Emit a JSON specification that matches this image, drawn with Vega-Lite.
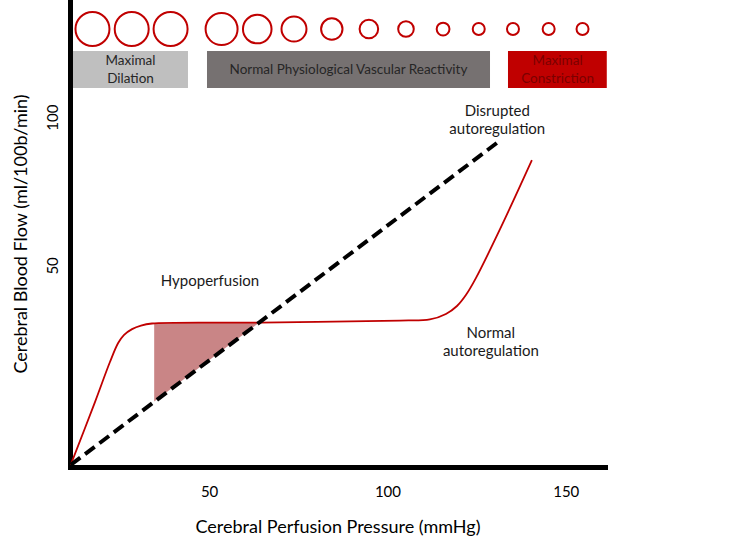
{
  "$schema": "https://vega.github.io/schema/vega-lite/v6.json",
  "width": 535,
  "height": 467,
  "autosize": {"type": "none"},
  "padding": {"left": 70, "top": 0, "right": 145, "bottom": 89},
  "background": "white",
  "config": {
    "view": {"stroke": null},
    "font": "Lato",
    "axis": {"grid": false, "ticks": false, "domainColor": "black", "domainWidth": 5, "domainCap": "square", "labelFont": "Lato", "labelFontSize": 15, "labelColor": "#000", "titleFont": "Lato", "titleFontSize": 18, "titleFontWeight": "normal", "titleColor": "#000"}
  },
  "datasets": {
    "normal": [
      {"cpp": 11.2, "cbf": -17.3},
      {"cpp": 18.0, "cbf": 3.9},
      {"cpp": 22.2, "cbf": 17.4},
      {"cpp": 24.5, "cbf": 23.8},
      {"cpp": 26.1, "cbf": 26.5},
      {"cpp": 28.4, "cbf": 28.5},
      {"cpp": 30.9, "cbf": 29.7},
      {"cpp": 34.0, "cbf": 30.4},
      {"cpp": 64.3, "cbf": 30.7},
      {"cpp": 103.5, "cbf": 31.4},
      {"cpp": 111.9, "cbf": 31.75},
      {"cpp": 116.4, "cbf": 33.6},
      {"cpp": 119.5, "cbf": 36.3},
      {"cpp": 122.0, "cbf": 40.0},
      {"cpp": 124.8, "cbf": 45.7},
      {"cpp": 131.6, "cbf": 62.3},
      {"cpp": 140.5, "cbf": 85.5}
    ],
    "disrupted": [
      {"cpp": 11.2, "cbf": -17.3},
      {"cpp": 130.7, "cbf": 91.3}
    ],
    "hypo": [
      {"cpp": 34.6, "cbf": 30.45, "lo": 4.1},
      {"cpp": 64.1, "cbf": 30.75, "lo": 30.75}
    ],
    "vessels": [
      {"cpp": 17.3, "cbf": 129.7, "d": 34},
      {"cpp": 28.3, "cbf": 129.7, "d": 34},
      {"cpp": 39.2, "cbf": 129.7, "d": 34},
      {"cpp": 53.5, "cbf": 129.7, "d": 32},
      {"cpp": 63.5, "cbf": 129.7, "d": 28.6},
      {"cpp": 73.8, "cbf": 129.7, "d": 25},
      {"cpp": 84.4, "cbf": 129.7, "d": 21.4},
      {"cpp": 94.8, "cbf": 129.7, "d": 18.6},
      {"cpp": 105.2, "cbf": 129.7, "d": 15.6},
      {"cpp": 115.6, "cbf": 129.7, "d": 12.8},
      {"cpp": 125.6, "cbf": 129.7, "d": 12},
      {"cpp": 135.2, "cbf": 129.7, "d": 12},
      {"cpp": 145.2, "cbf": 129.7, "d": 12},
      {"cpp": 154.7, "cbf": 129.7, "d": 12}
    ],
    "zones": [
      {"zone": "dilation", "cpp": 11.84, "cpp2": 44.08, "cbf": 122.3, "cbf2": 109.8},
      {"zone": "normal", "cpp": 49.41, "cpp2": 128.76, "cbf": 122.3, "cbf2": 109.8},
      {"zone": "constriction", "cpp": 133.8, "cpp2": 161.5, "cbf": 122.3, "cbf2": 109.8}
    ],
    "zoneLabels2": [
      {"cpp": 27.96, "cbf": 115.9, "label": "Maximal\nDilation"}
    ],
    "zoneLabels1": [
      {"cpp": 89.08, "cbf": 115.9, "label": "Normal Physiological Vascular Reactivity"}
    ],
    "redLabel": [
      {"cpp": 147.7, "cbf": 115.9, "label": "Maximal\nConstriction"}
    ],
    "notes2": [
      {"cpp": 130.8, "cbf": 99.0, "label": "Disrupted\nautoregulation"},
      {"cpp": 129.0, "cbf": 24.2, "label": "Normal\nautoregulation"}
    ],
    "notes1": [
      {"cpp": 50.25, "cbf": 44.7, "label": "Hypoperfusion"}
    ]
  },
  "encoding": {
    "x": {"field": "cpp", "type": "quantitative", "scale": {"domain": [11, 161], "nice": false, "zero": false},
          "axis": {"title": "Cerebral Perfusion Pressure (mmHg)", "values": [50, 100, 150], "labelPadding": 17, "titlePadding": 19}},
    "y": {"field": "cbf", "type": "quantitative", "scale": {"domain": [-18, 139.5], "nice": false, "zero": false},
          "axis": {"title": "Cerebral Blood Flow (ml/100b/min)", "values": [50, 100], "labelAngle": -90, "labelPadding": 10, "titlePadding": 15}}
  },
  "layer": [
    {"data": {"name": "hypo"}, "mark": {"type": "area", "color": "#c98586", "opacity": 1}, "encoding": {"y2": {"field": "lo"}}},
    {"data": {"name": "normal"}, "mark": {"type": "line", "color": "#c00000", "strokeWidth": 1.8, "interpolate": "catmull-rom"}, "encoding": {}},
    {"data": {"name": "disrupted"}, "mark": {"type": "line", "color": "#000000", "strokeWidth": 4, "strokeDash": [12, 6]}, "encoding": {}},
    {"data": {"name": "vessels"}, "mark": {"type": "point", "shape": "circle", "filled": false, "stroke": "#c00000", "strokeWidth": 2, "opacity": 1},
     "encoding": {"size": {"field": "d", "type": "quantitative", "scale": {"type": "pow", "exponent": 2, "domain": [0, 36], "range": [0, 1296]}, "legend": null}}},
    {"data": {"name": "zones"}, "mark": {"type": "rect"},
     "encoding": {"x2": {"field": "cpp2"}, "y2": {"field": "cbf2"},
       "color": {"field": "zone", "type": "nominal", "scale": {"domain": ["dilation", "normal", "constriction"], "range": ["#bfbfbf", "#767171", "#c00000"]}, "legend": null}}},
    {"data": {"name": "zoneLabels2"}, "mark": {"type": "text", "font": "Lato", "fontSize": 13.5, "color": "#262626", "align": "center", "baseline": "middle", "lineBreak": "\n", "lineHeight": 18, "dy": -9},
     "encoding": {"text": {"field": "label"}}},
    {"data": {"name": "zoneLabels1"}, "mark": {"type": "text", "font": "Lato", "fontSize": 13.5, "color": "#262626", "align": "center", "baseline": "middle"},
     "encoding": {"text": {"field": "label"}}},
    {"data": {"name": "redLabel"}, "mark": {"type": "text", "font": "Lato", "fontSize": 13.5, "color": "#7b0000", "align": "center", "baseline": "middle", "lineBreak": "\n", "lineHeight": 18, "dy": -9},
     "encoding": {"text": {"field": "label"}}},
    {"data": {"name": "notes2"}, "mark": {"type": "text", "font": "Lato", "fontSize": 15, "color": "#1a1a1a", "align": "center", "baseline": "middle", "lineBreak": "\n", "lineHeight": 18, "dy": -9},
     "encoding": {"text": {"field": "label"}}},
    {"data": {"name": "notes1"}, "mark": {"type": "text", "font": "Lato", "fontSize": 15, "color": "#1a1a1a", "align": "center", "baseline": "middle"},
     "encoding": {"text": {"field": "label"}}}
  ]
}
